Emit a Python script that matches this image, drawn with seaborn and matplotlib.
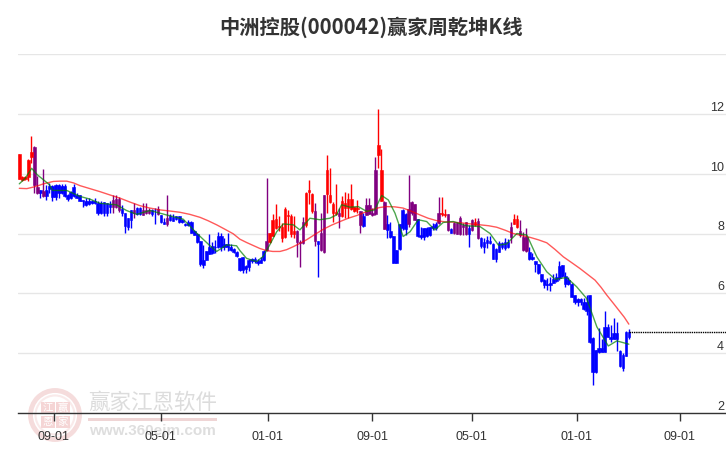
# 中洲控股 周K线图
import pandas as pd
import matplotlib
matplotlib.use('Agg')
import matplotlib.pyplot as plt
from matplotlib.patches import Circle, Rectangle
import seaborn as sns

title_text = '中洲控股(000042)赢家周乾坤K线'
y_ticks = [2, 4, 6, 8, 10, 12, 14]
y_labels = ['2', '4', '6', '8', '10', '12', '']
x_tick_pos = [11.5, 46.8, 82.4, 116.9, 150, 184.8, 218.9]
x_tick_labels = ['09-01', '05-01', '01-01', '09-01', '05-01', '01-01', '09-01']

# 每根K线的状态 r/b/p
state = list('rrrrrppbpb' 'bbbbbbbbbb' 'bbbbbbbbbb' 'bpppbbbbpb'
             'bpppbbpbbp' 'bbbbbbbbbb' 'bbbbbbbbbb' 'bbbbbbbbbb'
             'bbprrrrrrr' 'rrppprrrpb' 'pprrrrprrr' 'rrrpbppppr'
             'rpbbbbbbbp' 'ppbbbbbbbp' 'rrpbpppppb' 'prpbbbbbbb'
             'bbbprrpppb' 'bbbbbbbbbb' 'bbbbbbbbbb' 'bbbbbbbbbb'
             'bbb')

high = [10.65, 9.93, 9.93, 10.48, 11.26, 10.91, 9.93, 9.46, 10.15, 9.63,
        9.68, 9.63, 9.64, 9.66, 9.66, 9.66, 9.32, 9.41, 9.66, 9.35,
        9.30, 9.12, 9.18, 9.17, 9.12, 9.18, 9.07, 9.07, 9.05, 9.03,
        9.07, 9.29, 9.29, 9.21, 8.96, 8.70, 8.51, 8.77, 9.01, 8.88,
        8.88, 9.01, 9.01, 8.85, 8.81, 8.85, 8.92, 8.62, 8.51, 9.29,
        8.66, 8.66, 8.59, 8.59, 8.48, 8.34, 8.45, 8.43, 8.12, 8.01,
        7.76, 7.62, 7.43, 7.99, 7.73, 7.79, 8.06, 8.01, 7.84, 8.01,
        7.65, 7.51, 7.43, 7.17, 7.23, 6.95, 7.14, 7.17, 7.21, 7.14,
        7.23, 7.45, 9.85, 8.03, 8.66, 8.99, 8.57, 8.34, 8.90, 8.79,
        8.66, 8.57, 8.12, 7.79, 8.55, 9.40, 9.79, 9.35, 9.01, 7.74,
        8.68, 9.28, 10.63, 10.18, 9.04, 9.66, 8.85, 9.24, 9.40, 9.35,
        9.66, 8.90, 9.12, 8.74, 8.68, 9.17, 9.18, 8.85, 10.55, 12.16,
        10.82, 9.07, 8.62, 8.40, 7.92, 7.45, 8.32, 8.81, 8.68, 9.96,
        9.08, 8.99, 8.48, 8.23, 8.20, 8.21, 8.23, 8.34, 8.37, 9.21,
        9.21, 8.83, 8.66, 8.18, 8.40, 8.40, 8.57, 8.34, 8.40, 8.29,
        8.49, 8.51, 8.51, 7.89, 7.84, 7.92, 7.92, 7.67, 7.50, 7.76,
        7.73, 7.84, 7.80, 8.40, 8.65, 8.62, 8.45, 8.06, 8.17, 7.56,
        7.34, 7.09, 6.98, 6.64, 6.47, 6.50, 6.53, 6.64, 6.67, 7.09,
        6.95, 6.72, 6.53, 6.33, 5.94, 5.83, 5.83, 5.83, 5.94, 5.94,
        4.53, 4.10, 4.83, 4.46, 5.42, 4.99, 4.94, 5.16, 5.05, 4.10,
        3.99, 4.75, 4.80]
body_top = [10.65, 9.90, 9.90, 10.46, 10.74, 10.89, 9.57, 9.44, 9.43, 9.46,
            9.59, 9.60, 9.61, 9.63, 9.59, 9.59, 9.29, 9.40, 9.55, 9.29,
            9.28, 9.12, 9.08, 9.08, 9.09, 9.09, 9.03, 9.03, 9.05, 9.01,
            8.99, 9.12, 9.15, 9.15, 8.81, 8.70, 8.51, 8.77, 8.79, 8.85,
            8.85, 8.79, 8.79, 8.77, 8.77, 8.79, 8.81, 8.62, 8.40, 8.51,
            8.57, 8.54, 8.57, 8.59, 8.45, 8.32, 8.40, 8.40, 8.10, 7.99,
            7.76, 7.12, 7.42, 7.56, 7.59, 7.56, 7.90, 7.90, 7.65, 7.65,
            7.56, 7.47, 7.38, 7.17, 7.23, 6.92, 7.12, 7.14, 7.14, 7.07,
            7.10, 7.42, 7.75, 8.01, 8.46, 8.48, 8.26, 8.21, 8.81, 8.62,
            8.59, 8.10, 8.09, 7.73, 8.39, 9.37, 9.46, 9.33, 8.76, 7.74,
            8.03, 9.28, 10.13, 9.29, 8.99, 8.72, 8.68, 9.07, 9.01, 9.15,
            9.15, 8.87, 8.85, 8.74, 8.57, 8.96, 8.96, 8.68, 10.13, 10.96,
            10.13, 9.05, 8.32, 8.09, 7.92, 7.45, 8.32, 8.79, 8.66, 8.81,
            9.04, 8.98, 8.48, 7.95, 8.18, 8.18, 8.21, 8.26, 8.32, 8.68,
            8.68, 8.66, 8.65, 8.14, 8.34, 8.34, 8.51, 8.29, 8.38, 8.18,
            8.46, 8.40, 8.43, 7.86, 7.73, 7.78, 7.76, 7.65, 7.47, 7.67,
            7.67, 7.73, 7.72, 8.23, 8.47, 8.47, 8.09, 7.89, 7.87, 7.39,
            7.20, 7.09, 6.98, 6.64, 6.44, 6.30, 6.33, 6.47, 6.53, 6.92,
            6.95, 6.58, 6.44, 6.31, 5.93, 5.80, 5.80, 5.72, 5.72, 5.94,
            4.51, 4.10, 4.18, 4.18, 4.86, 4.86, 4.55, 4.69, 4.69, 4.08,
            3.94, 4.72, 4.72]
body_bot = [9.82, 9.79, 9.82, 9.90, 10.57, 9.63, 9.35, 9.35, 9.24, 9.24,
            9.50, 9.21, 9.21, 9.37, 9.37, 9.26, 9.15, 9.17, 9.26, 9.20,
            9.09, 9.09, 8.96, 8.97, 9.01, 9.01, 8.67, 8.70, 8.70, 8.70,
            8.88, 8.88, 8.88, 8.77, 8.70, 8.25, 8.21, 8.45, 8.70, 8.66,
            8.64, 8.63, 8.70, 8.68, 8.64, 8.77, 8.66, 8.38, 8.32, 8.32,
            8.45, 8.43, 8.48, 8.37, 8.37, 8.28, 8.28, 8.03, 7.96, 7.70,
            6.98, 6.96, 7.12, 7.32, 7.34, 7.54, 7.54, 7.56, 7.56, 7.56,
            7.45, 7.38, 7.25, 6.78, 6.78, 6.81, 6.89, 7.07, 7.07, 7.03,
            7.03, 7.10, 7.45, 7.70, 7.92, 8.18, 8.21, 7.84, 7.88, 8.57,
            7.99, 7.99, 7.73, 7.68, 7.68, 8.29, 9.40, 8.74, 7.76, 7.64,
            7.45, 7.39, 9.33, 9.04, 8.68, 8.66, 8.57, 8.57, 8.85, 8.85,
            8.83, 8.76, 8.81, 8.29, 8.26, 8.62, 8.66, 8.61, 8.66, 10.63,
            9.10, 8.15, 8.12, 7.87, 7.03, 7.03, 7.47, 8.18, 8.14, 8.32,
            8.68, 8.46, 7.92, 7.88, 7.88, 7.92, 7.94, 8.18, 8.18, 8.34,
            8.65, 8.62, 8.12, 8.03, 8.01, 7.99, 7.97, 8.23, 7.97, 7.99,
            8.12, 8.29, 7.84, 7.58, 7.56, 7.67, 7.67, 7.16, 7.16, 7.39,
            7.56, 7.50, 7.55, 7.87, 8.32, 8.21, 7.95, 7.45, 7.41, 7.15,
            7.14, 6.98, 6.67, 6.42, 6.28, 6.28, 6.29, 6.35, 6.42, 6.50,
            6.58, 6.31, 6.31, 5.89, 5.70, 5.72, 5.72, 5.46, 5.42, 4.38,
            3.36, 3.36, 4.05, 4.05, 4.05, 4.55, 4.48, 4.49, 4.46, 3.57,
            3.51, 3.92, 4.53]
low = [9.82, 9.74, 9.79, 9.74, 10.35, 9.35, 9.32, 9.17, 9.21, 9.12,
       9.37, 9.07, 9.12, 9.18, 9.32, 9.21, 9.10, 9.15, 9.21, 9.17,
       9.08, 8.90, 8.92, 8.95, 8.97, 8.99, 8.63, 8.66, 8.59, 8.57,
       8.68, 8.70, 8.85, 8.73, 8.57, 8.03, 8.12, 8.18, 8.51, 8.62,
       8.62, 8.62, 8.66, 8.66, 8.59, 8.32, 8.62, 8.34, 8.32, 8.25,
       8.43, 8.42, 8.45, 8.34, 8.34, 8.25, 8.25, 8.01, 7.94, 7.67,
       6.92, 6.85, 7.12, 7.30, 7.32, 7.34, 7.51, 7.40, 7.45, 7.40,
       7.43, 7.36, 7.21, 6.76, 6.67, 6.67, 6.73, 7.01, 7.01, 6.95,
       7.01, 7.07, 7.40, 7.68, 7.90, 8.14, 8.07, 7.70, 7.84, 8.07,
       7.88, 7.84, 7.23, 6.89, 7.65, 8.23, 8.99, 8.68, 7.59, 6.53,
       7.40, 7.36, 8.68, 9.01, 8.40, 8.62, 8.18, 8.55, 8.51, 8.51,
       8.79, 8.71, 8.68, 8.03, 8.23, 8.62, 8.65, 8.59, 8.62, 10.18,
       9.07, 8.14, 7.84, 7.84, 7.01, 7.01, 7.45, 8.12, 7.95, 8.23,
       8.62, 8.46, 7.88, 7.81, 7.79, 7.88, 7.92, 8.12, 8.12, 8.32,
       8.59, 8.55, 8.10, 8.01, 7.99, 7.97, 7.95, 7.95, 7.95, 7.56,
       8.10, 8.26, 7.81, 7.50, 7.36, 7.50, 7.65, 7.14, 7.05, 7.38,
       7.48, 7.45, 7.50, 7.67, 8.32, 8.17, 7.89, 7.43, 7.39, 7.11,
       7.11, 6.72, 6.64, 6.39, 6.17, 6.11, 6.09, 6.33, 6.39, 6.44,
       6.56, 6.22, 6.28, 5.89, 5.66, 5.57, 5.61, 5.44, 5.27, 4.35,
       2.95, 3.34, 3.99, 4.04, 4.04, 4.53, 4.38, 4.46, 4.08, 3.54,
       3.41, 3.90, 4.48]

# 均线读数
red_x = [0, 2.5, 4.6, 6.3, 8, 9.6, 11.3, 13.5, 15.7, 18, 20.1, 23.4, 26.7, 30, 33.4, 36.7, 40, 43.3, 46.6,
         50, 53.2, 56.5, 59.9, 62.5, 65.4, 68, 70.9, 73.1, 75.3, 77.5, 79.7, 81.9, 84, 86.4, 88.6, 90.8,
         93, 95.2, 98, 100.7, 103.5, 106.3, 109, 111.8, 114.5, 117.3, 119.5, 121.7, 124.5, 127.2, 130,
         132.8, 135.5, 138.3, 141, 143.8, 147, 150.5, 152.7, 155.5, 158.2, 161, 163.7, 166.5, 169.3,
         172, 174.8, 177.5, 180.3, 183, 185.8, 188.5, 190.8, 192.8, 194.7, 197, 199.1, 200.5, 202]
red_y = [9.51, 9.50, 9.55, 9.60, 9.66, 9.70, 9.74, 9.75, 9.75, 9.69, 9.60, 9.50, 9.40, 9.29, 9.18, 9.05, 8.93,
         8.85, 8.79, 8.75, 8.71, 8.64, 8.54, 8.43, 8.29, 8.15, 7.99, 7.81, 7.70, 7.60, 7.50, 7.43, 7.40, 7.40,
         7.46, 7.56, 7.67, 7.79, 7.97, 8.14, 8.28, 8.40, 8.51, 8.60, 8.71, 8.81, 8.87, 8.90, 8.89, 8.85, 8.74,
         8.62, 8.51, 8.43, 8.39, 8.38, 8.35, 8.31, 8.29, 8.26, 8.21, 8.11, 8.00, 7.93, 7.87, 7.79, 7.69,
         7.47, 7.22, 7.03, 6.83, 6.62, 6.44, 6.20, 5.94, 5.65, 5.38, 5.20, 4.97]
green_x = [0, 2, 4.1, 6, 10, 11, 15.7, 20.1, 23.4, 26.7, 32.2, 35.5, 38.9, 43.3, 48.8, 54.3,
           58.8, 63.2, 65.4, 68.7, 72, 73.1, 75.3, 78.6, 80.8, 83, 85.3, 87.5, 90.8, 93,
           96.3, 99.6, 102.9, 105.1, 106.8, 109.6, 112.3, 115.1, 117.8, 120.1, 122.3,
           124.5, 127.2, 129.5, 132.2, 135, 137.7, 140.5, 143.8, 148.2, 152.7, 156, 158.8,
           161.5, 164.9, 168.2, 171.5, 174.8, 177.6, 181.4, 184.7, 188, 191.4, 195.2, 198, 202]
green_y = [9.66, 9.85, 10.18, 9.96, 9.63, 9.44, 9.44, 9.24, 9.15, 9.01, 8.96, 8.77, 8.64, 8.77, 8.62, 8.48,
           8.01, 7.59, 7.40, 7.62, 7.59, 7.43, 7.17, 7.06, 7.23, 7.62, 8.06, 8.32, 8.29, 8.12,
           8.51, 8.46, 8.51, 8.62, 8.96, 8.88, 8.90, 8.74, 8.79, 9.27, 9.12,
           8.68, 7.90, 8.06, 8.46, 8.40, 8.12, 8.37, 8.40, 8.26, 8.23, 8.00, 7.61,
           7.65, 8.00, 7.95, 7.22, 6.72, 6.47, 6.53, 6.22, 5.83, 4.88, 4.24, 4.41, 4.30]
last_price = [4.72, 4.72]
last_x = [202, 234.2]

sns.set_theme(style='white')
plt.rcParams['font.family'] = ['Liberation Sans', 'DejaVu Sans']

df = pd.DataFrame({'x': range(len(high)), 'high': high, 'low': low,
                   'top': body_top, 'bot': body_bot, 'state': state})
colors = {'r': '#ff0000', 'b': '#0000ff', 'p': '#800080'}

fig = plt.figure(figsize=(7.26, 4.5), dpi=100)
ax = fig.add_axes([18 / 726, 37 / 450, 708 / 726, 359 / 450])
ax.set_xlim(-0.43, 234.2)
ax.set_ylim(2, 14)

# 网格和坐标
ax.set_axisbelow(True)
ax.yaxis.grid(True, color='#e6e6e6', lw=1)
ax.xaxis.grid(False)
for s in ['top', 'left', 'right']:
    ax.spines[s].set_visible(False)
ax.spines['bottom'].set_color('#333333')
ax.spines['bottom'].set_linewidth(1)
ax.set_xticks(x_tick_pos, x_tick_labels)
ax.tick_params(axis='x', bottom=True, length=6, width=1, color='#333333', labelsize=9,
               labelcolor='#333333', pad=7)
ax.set_yticks(y_ticks, [''] * len(y_ticks))
ax.tick_params(axis='y', left=False, right=False)
# 数字写在网格线上方、靠右
for v, lab in zip(y_ticks, y_labels):
    ax.annotate(lab, xy=(1, v), xycoords=('axes fraction', 'data'), xytext=(-1.5, 0),
                textcoords='offset points', ha='right', va='bottom', fontsize=9,
                color='#333333')

# K线
for key, part in df.groupby('state'):
    ax.vlines(part['x'], part['low'], part['high'], color=colors[key], lw=1, zorder=3)
    ax.bar(part['x'], part['top'] - part['bot'], bottom=part['bot'], width=0.85,
           color=colors[key], linewidth=0.4, edgecolor=colors[key], zorder=3)

sns.lineplot(x=red_x, y=red_y, color='#ff0000', lw=1, alpha=0.65, ax=ax, zorder=4)
sns.lineplot(x=green_x, y=green_y, color='#008000', lw=1, alpha=0.7, ax=ax, zorder=4)
sns.lineplot(x=last_x, y=last_price, color='black', lw=1, ls=(0, (1, 0.6)), ax=ax, zorder=4)
ax.set_xlabel('')
ax.set_ylabel('')

# 水印
cjk = ['Noto Sans CJK SC', 'DejaVu Sans']
over = fig.add_axes([0, 0, 1, 1], zorder=-1)
over.set_xlim(0, 726)
over.set_ylim(450, 0)
over.axis('off')
over.add_patch(Circle((55, 415), 24.5, fill=False, ec='#f5dcdc', lw=3.5))
over.add_patch(Circle((55, 415), 19.5, fill=False, ec='#f9eaea', lw=1.5))
for cx, cy, ch in [(48, 408, '江'), (63, 408, '赢'), (48, 422, '恩'), (63, 422, '家')]:
    over.add_patch(Rectangle((cx - 7, cy - 6), 14, 12, fc='#f5d5d5', ec='none'))
    over.text(cx, cy, ch, family=cjk, fontsize=7.5, color='white', ha='center', va='center')
over.text(152.5, 403, '赢家江恩软件', family=cjk, fontsize=15.5, color='#dcdcdc',
          ha='center', va='center')
over.add_patch(Rectangle((88, 417.5), 129, 3, fc='#efd5d5', ec='none'))
over.text(152, 431, 'www.360ejm.com', fontsize=11, color='#dedede', fontweight='bold',
          ha='center', va='center')
ax.patch.set_alpha(0)

fig.text(371 / 726, 1 - 27 / 450, title_text, family=cjk, fontsize=14.6, fontweight='bold',
         color='#333333', ha='center', va='center')

fig.savefig('out.png', dpi=100)
